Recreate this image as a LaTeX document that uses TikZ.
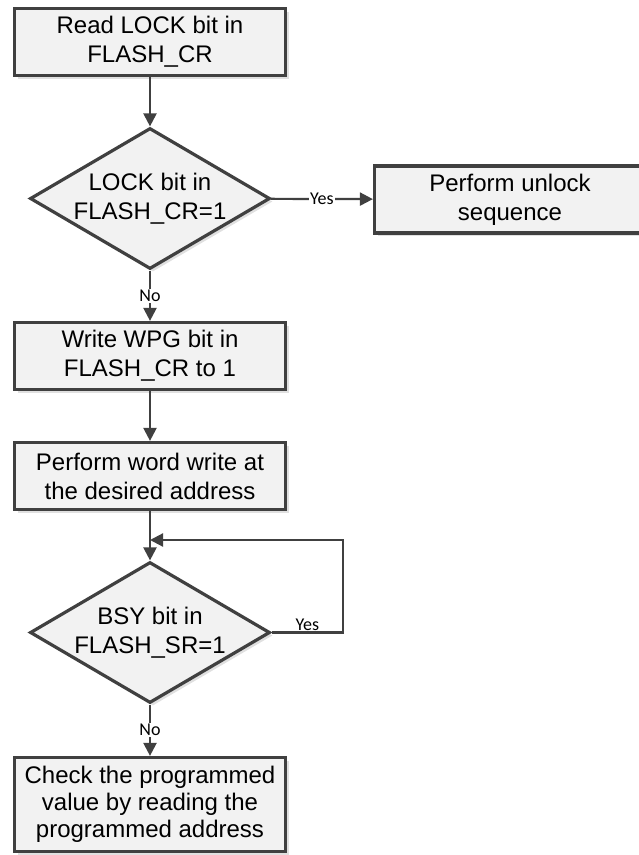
\documentclass[tikz,border=0pt]{standalone}
\usepackage{fontspec}
\setmainfont{Liberation Sans}
\newfontfamily\labelfont{Carlito}
\usetikzlibrary{shapes.geometric,arrows.meta,shadows}

\definecolor{linegray}{HTML}{404040}
\definecolor{boxgray}{HTML}{F2F2F2}

\tikzset{
  stepbox/.style={draw=linegray, line width=3.2pt, fill=boxgray, align=center,
    minimum width=271pt, minimum height=67pt, inner sep=0pt,
    font=\fontsize{24}{29}\selectfont,
    drop shadow={shadow xshift=3pt, shadow yshift=-3pt, fill=black!12, opacity=1}},
  testbox/.style={diamond, draw=linegray, line width=3.2pt, fill=boxgray, align=center,
    minimum width=240pt, minimum height=141pt, inner sep=0pt, aspect=1.7,
    font=\fontsize{24}{29}\selectfont,
    drop shadow={shadow xshift=3pt, shadow yshift=-3pt, fill=black!12, opacity=1}},
  flow/.style={->, >={Triangle[length=13pt,width=13pt]}, line width=2.2pt, draw=linegray},
  lbl/.style={font=\labelfont\fontsize{18}{20}\selectfont, fill=white, inner sep=1pt}
}

\begin{document}
\begin{tikzpicture}[x=1pt,y=-1pt]
        \useasboundingbox (0,0) rectangle (639,855);

        \node[stepbox] (read) at (150,42) {Read LOCK bit in\\FLASH\_CR};
        \node[testbox] (lock) at (150,198.5) {LOCK bit in\\FLASH\_CR=1};
        \node[stepbox] (unlock) at (510,199.5) {Perform unlock\\sequence};
        \node[stepbox] (wpg) at (150,356) {Write WPG bit in\\FLASH\_CR to 1};
        \node[stepbox] (write) at (150,476) {Perform word write at\\the desired address};
        \node[testbox] (busy) at (150,632.5) {BSY bit in\\FLASH\_SR=1};
        \node[stepbox, minimum height=94pt, font=\fontsize{24}{27}\selectfont] (check) at (150,804.5)
          {Check the programmed\\value by reading the\\programmed address};

        % read to lock test
        \draw[flow] (read) -- (lock);

        % lock test: yes to unlock, no to wpg
        \draw[flow] (lock) -- node[lbl] {Yes} (unlock);
        \draw[flow] (lock) -- node[lbl] {No} (wpg);

        % wpg to write to busy test
        \draw[flow] (wpg) -- (write);
        \draw[flow] (write) -- (busy);

        % busy loop
        \coordinate (loop) at (343,540);
        \draw[flow] (busy.east) -- node[lbl, fill=none, above] {Yes} (busy.east -| loop)
          -- (loop) -- (write.south |- loop);

        % busy test to check
        \draw[flow] (busy) -- node[lbl] {No} (check);

\end{tikzpicture}
\end{document}
